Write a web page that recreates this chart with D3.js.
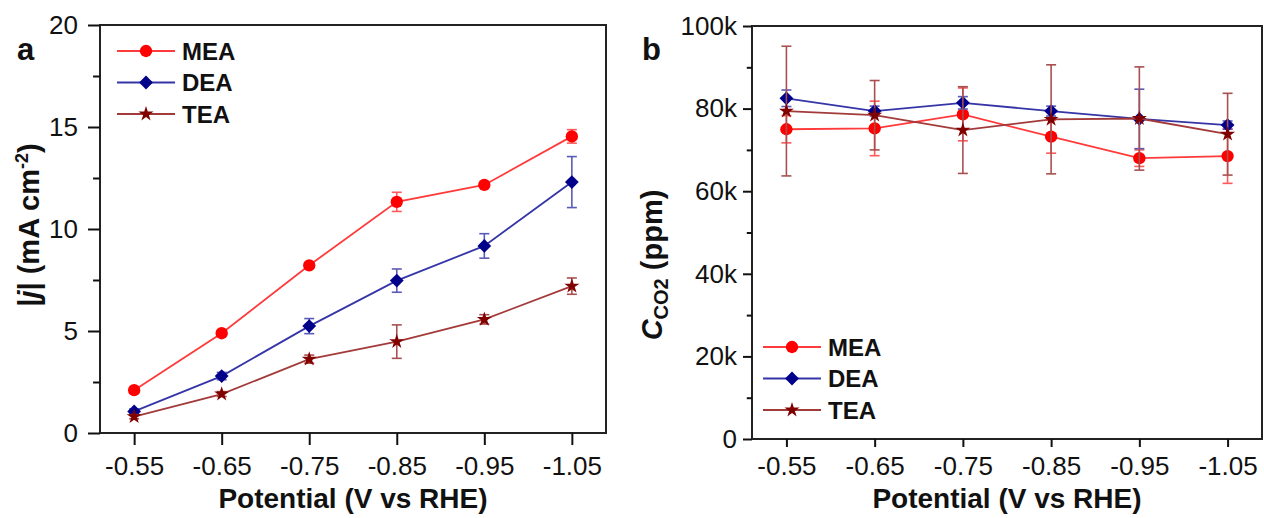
<!DOCTYPE html>
<html>
<head>
<meta charset="UTF-8">
<title>Current density and CO2 concentration vs potential</title>
<script src="https://d3js.org/d3.v7.min.js"></script>
<style>
  body { margin: 0; background: #fff; }
  svg text { font-family: "Liberation Sans", Arial, sans-serif; fill: #111; }
</style>
</head>
<body>
<svg id="viz" width="1264" height="518"></svg>
<script>
// data
var potentials = ["-0.55", "-0.65", "-0.75", "-0.85", "-0.95", "-1.05"];
var seriesNames = ["MEA", "DEA", "TEA"];

// panel a : |j| in mA cm-2
var jMEA    = [2.10, 4.89, 8.22, 11.33, 12.16, 14.54];
var jMEAerr = [0.12, 0.10, 0.12, 0.47, 0.10, 0.33];
var jDEA    = [1.06, 2.79, 5.24, 7.47, 9.17, 12.30];
var jDEAerr = [0.12, 0.18, 0.37, 0.57, 0.60, 1.25];
var jTEA    = [0.80, 1.91, 3.62, 4.48, 5.57, 7.20];
var jTEAerr = [0.10, 0.12, 0.20, 0.82, 0.23, 0.40];

// panel b : CO2 concentration in ppm
var cMEA    = [75000, 75200, 78600, 73200, 68000, 68500];
var cMEAerr = [3300, 6600, 6400, 4000, 2000, 6600];
var cDEA    = [82500, 79400, 81400, 79400, 77500, 76000];
var cDEAerr = [2000, 1200, 1500, 1200, 7200, 1000];
var cTEA    = [79400, 78400, 74800, 77400, 77600, 73800];
var cTEAerr = [15700, 8400, 10500, 13200, 12500, 9900];

var jTicks = [0, 5, 10, 15, 20];
var jMinor = [2.5, 7.5, 12.5, 17.5];
var cTicks = [0, 20000, 40000, 60000, 80000, 100000];
var cMinor = [10000, 30000, 50000, 70000, 90000];

var lineColor   = {MEA: "#ff3a3a", DEA: "#3535a8", TEA: "#a33a3a"};
var errColor    = {MEA: "#ff5a5a", DEA: "#5a5ab8", TEA: "#a85050"};
var markerColor = {MEA: "#ff0000", DEA: "#00008b", TEA: "#800000"};
var markerShape = {MEA: d3.symbolCircle, DEA: d3.symbolSquare, TEA: d3.symbolStar};
var markerSize  = {MEA: 120, DEA: 95, TEA: 70};
var markerRot   = {MEA: 0, DEA: 45, TEA: 0};

var svg = d3.select("#viz");

function marker(g, name, cx, cy) {
  g.append("path")
    .attr("d", d3.symbol().type(markerShape[name]).size(markerSize[name])())
    .attr("transform", "translate(" + cx + "," + cy + ") rotate(" + markerRot[name] + ")")
    .attr("fill", markerColor[name]);
}

function drawPanel(p) {
  var g = svg.append("g");
  var x = d3.scalePoint().domain(potentials).range([p.left, p.right]).padding(0.39);
  var y = d3.scaleLinear().domain([0, p.max]).range([p.bottom, p.top]);

  // frame
  g.append("rect")
    .attr("x", p.left).attr("y", p.top)
    .attr("width", p.right - p.left).attr("height", p.bottom - p.top)
    .attr("fill", "none").attr("stroke", "#222").attr("stroke-width", 2);

  // y axis, major + minor
  var ya = g.append("g").attr("transform", "translate(" + p.left + ",0)")
    .call(d3.axisLeft(y).tickValues(p.ticks).tickSize(p.yTick).tickPadding(p.yPad).tickFormat(p.fmt));
  var ym = g.append("g").attr("transform", "translate(" + p.left + ",0)")
    .call(d3.axisLeft(y).tickValues(p.minor).tickSize(p.yTick * 0.58).tickFormat(""));
  var xa = g.append("g").attr("transform", "translate(0," + p.bottom + ")")
    .call(d3.axisBottom(x).tickSize(p.xTick).tickPadding(p.xPad));
  [ya, ym, xa].forEach(function(a) {
    a.select(".domain").remove();
    a.selectAll("line").attr("stroke", "#111").attr("stroke-width", 2);
    a.selectAll("text").style("font-size", "26px").attr("fill", "#111");
  });

  // series
  p.series.forEach(function(s) {
    var pts = potentials.map(function(v, i) { return {x: x(v), v: s.vals[i], e: s.errs[i]}; });
    var eb = g.append("g").attr("stroke", errColor[s.name]).attr("stroke-width", 1.6);
    pts.forEach(function(d) {
      var y1 = y(d.v + d.e), y2 = y(d.v - d.e);
      eb.append("line").attr("x1", d.x).attr("x2", d.x).attr("y1", y1).attr("y2", y2);
      eb.append("line").attr("x1", d.x - 5).attr("x2", d.x + 5).attr("y1", y1).attr("y2", y1);
      eb.append("line").attr("x1", d.x - 5).attr("x2", d.x + 5).attr("y1", y2).attr("y2", y2);
    });
    g.append("path")
      .attr("d", d3.line().x(function(d) { return d.x; }).y(function(d) { return y(d.v); })(pts))
      .attr("fill", "none").attr("stroke", lineColor[s.name]).attr("stroke-width", 1.8);
    pts.forEach(function(d) { marker(g, s.name, d.x, y(d.v)); });
  });

  // legend
  seriesNames.forEach(function(name, i) {
    var ly = p.legY + i * 31.5;
    g.append("line")
      .attr("x1", p.legX).attr("x2", p.legX + 58).attr("y1", ly).attr("y2", ly)
      .attr("stroke", lineColor[name]).attr("stroke-width", 1.8);
    marker(g, name, p.legX + 29, ly);
    g.append("text").attr("x", p.legX + 65).attr("y", ly)
      .attr("dominant-baseline", "central")
      .style("font-size", "24px").style("font-weight", "bold")
      .text(name);
  });

  // x title
  g.append("text")
    .attr("x", (p.left + p.right) / 2).attr("y", 508)
    .attr("text-anchor", "middle")
    .style("font-size", "28px").style("font-weight", "bold")
    .text("Potential (V vs RHE)");

  // panel letter
  g.append("text").attr("x", p.letterX).attr("y", 60)
    .style("font-size", "31px").style("font-weight", "bold")
    .text(p.letter);
  return g;
}

var ga = drawPanel({
  left: 100, right: 606, top: 25, bottom: 433, max: 20,
  ticks: jTicks, minor: jMinor, fmt: d3.format("d"),
  yTick: 12, yPad: 10, xTick: 12, xPad: 12,
  series: [
    {name: "MEA", vals: jMEA, errs: jMEAerr},
    {name: "DEA", vals: jDEA, errs: jDEAerr},
    {name: "TEA", vals: jTEA, errs: jTEAerr}
  ],
  legX: 117, legY: 51, letter: "a", letterX: 17
});

var gb = drawPanel({
  left: 752, right: 1262, top: 26, bottom: 439, max: 100000,
  ticks: cTicks, minor: cMinor, fmt: function(d) { return d === 0 ? "0" : (d / 1000) + "k"; },
  yTick: 9, yPad: 6, xTick: 8, xPad: 10,
  series: [
    {name: "MEA", vals: cMEA, errs: cMEAerr},
    {name: "DEA", vals: cDEA, errs: cDEAerr},
    {name: "TEA", vals: cTEA, errs: cTEAerr}
  ],
  legX: 763, legY: 347, letter: "b", letterX: 642
});

// y titles
var ta = ga.append("text")
  .attr("transform", "translate(39,225) rotate(-90)")
  .attr("text-anchor", "middle")
  .style("font-size", "29px").style("font-weight", "bold");
ta.append("tspan").text("|");
ta.append("tspan").style("font-style", "italic").text("j");
ta.append("tspan").text("| (mA cm");
ta.append("tspan").attr("dy", -11).style("font-size", "18px").text("-2");
ta.append("tspan").attr("dy", 11).text(")");

var tb = gb.append("text")
  .attr("transform", "translate(662,265) rotate(-90)")
  .attr("text-anchor", "middle")
  .style("font-size", "29px").style("font-weight", "bold");
tb.append("tspan").style("font-style", "italic").text("C");
tb.append("tspan").attr("dy", 6).style("font-size", "20px").text("CO2");
tb.append("tspan").attr("dy", -6).text(" (ppm)");
</script>
</body>
</html>
